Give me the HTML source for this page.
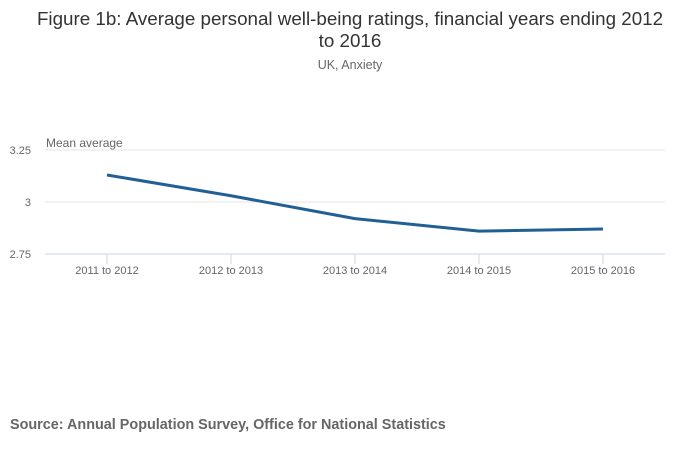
<!DOCTYPE html>
<html><head><meta charset="utf-8"><style>
body{margin:0;background:#fff;font-family:"Liberation Sans",sans-serif;}
svg text{font-family:"Liberation Sans",sans-serif;}
</style></head><body>
<svg width="700" height="451">
<text x="350" y="25" text-anchor="middle" font-size="18.8" fill="#333">Figure 1b: Average personal well-being ratings, financial years ending 2012</text>
<text x="350" y="47" text-anchor="middle" font-size="18.8" fill="#333">to 2016</text>
<text x="350" y="69" text-anchor="middle" font-size="12.5" fill="#666">UK, Anxiety</text>
<text x="46" y="147" font-size="12" fill="#666">Mean average</text>
<g id="grid"></g><g id="xaxis"></g><g id="series"></g>
<text x="10" y="429" font-size="14.4" font-weight="bold" fill="#666">Source: Annual Population Survey, Office for National Statistics</text>
</svg>
<script>
const categories=["2011 to 2012","2012 to 2013","2013 to 2014","2014 to 2015","2015 to 2016"];
const values=[3.13,3.03,2.92,2.86,2.87];
const yTicks=[2.75,3,3.25];
const yTickLabels=["2.75","3","3.25"];
const NS="http://www.w3.org/2000/svg";
const L=45,R=665,T=150,B=254,yMin=2.75,yMax=3.25;
const y=v=>B-(v-yMin)/(yMax-yMin)*(B-T);
const step=(R-L)/categories.length;
const x=i=>L+step*(i+0.5);
function mk(t,a,p){const e=document.createElementNS(NS,t);for(const k in a)e.setAttribute(k,a[k]);p.appendChild(e);return e;}
const g=document.getElementById('grid');
yTicks.forEach((v,i)=>{
 const ln=mk('line',{x1:L,x2:R,y1:y(v),y2:y(v),stroke:i===0?'#ccd6eb':'#e6e6e6','stroke-width':1},g);
 
 
 const t=mk('text',{x:31,y:y(v)+4,'text-anchor':'end','font-size':11,fill:'#666'},g);
 t.textContent=yTickLabels[i];
 
 
});
const xa=document.getElementById('xaxis');
categories.forEach((c,i)=>{
 const tk=mk('line',{x1:x(i),x2:x(i),y1:B,y2:B+10,stroke:'#ccd6eb'},xa);
 
 
 const t=mk('text',{x:x(i),y:B+20,'text-anchor':'middle','font-size':11,fill:'#666'},xa);
 t.textContent=c;
 
 
});
const s=document.getElementById('series');
const p=mk('polyline',{points:values.map((v,i)=>x(i)+','+y(v)).join(' '),fill:'none',stroke:'#206095','stroke-width':3,'stroke-linejoin':'round'},s);


</script>
</body></html>
